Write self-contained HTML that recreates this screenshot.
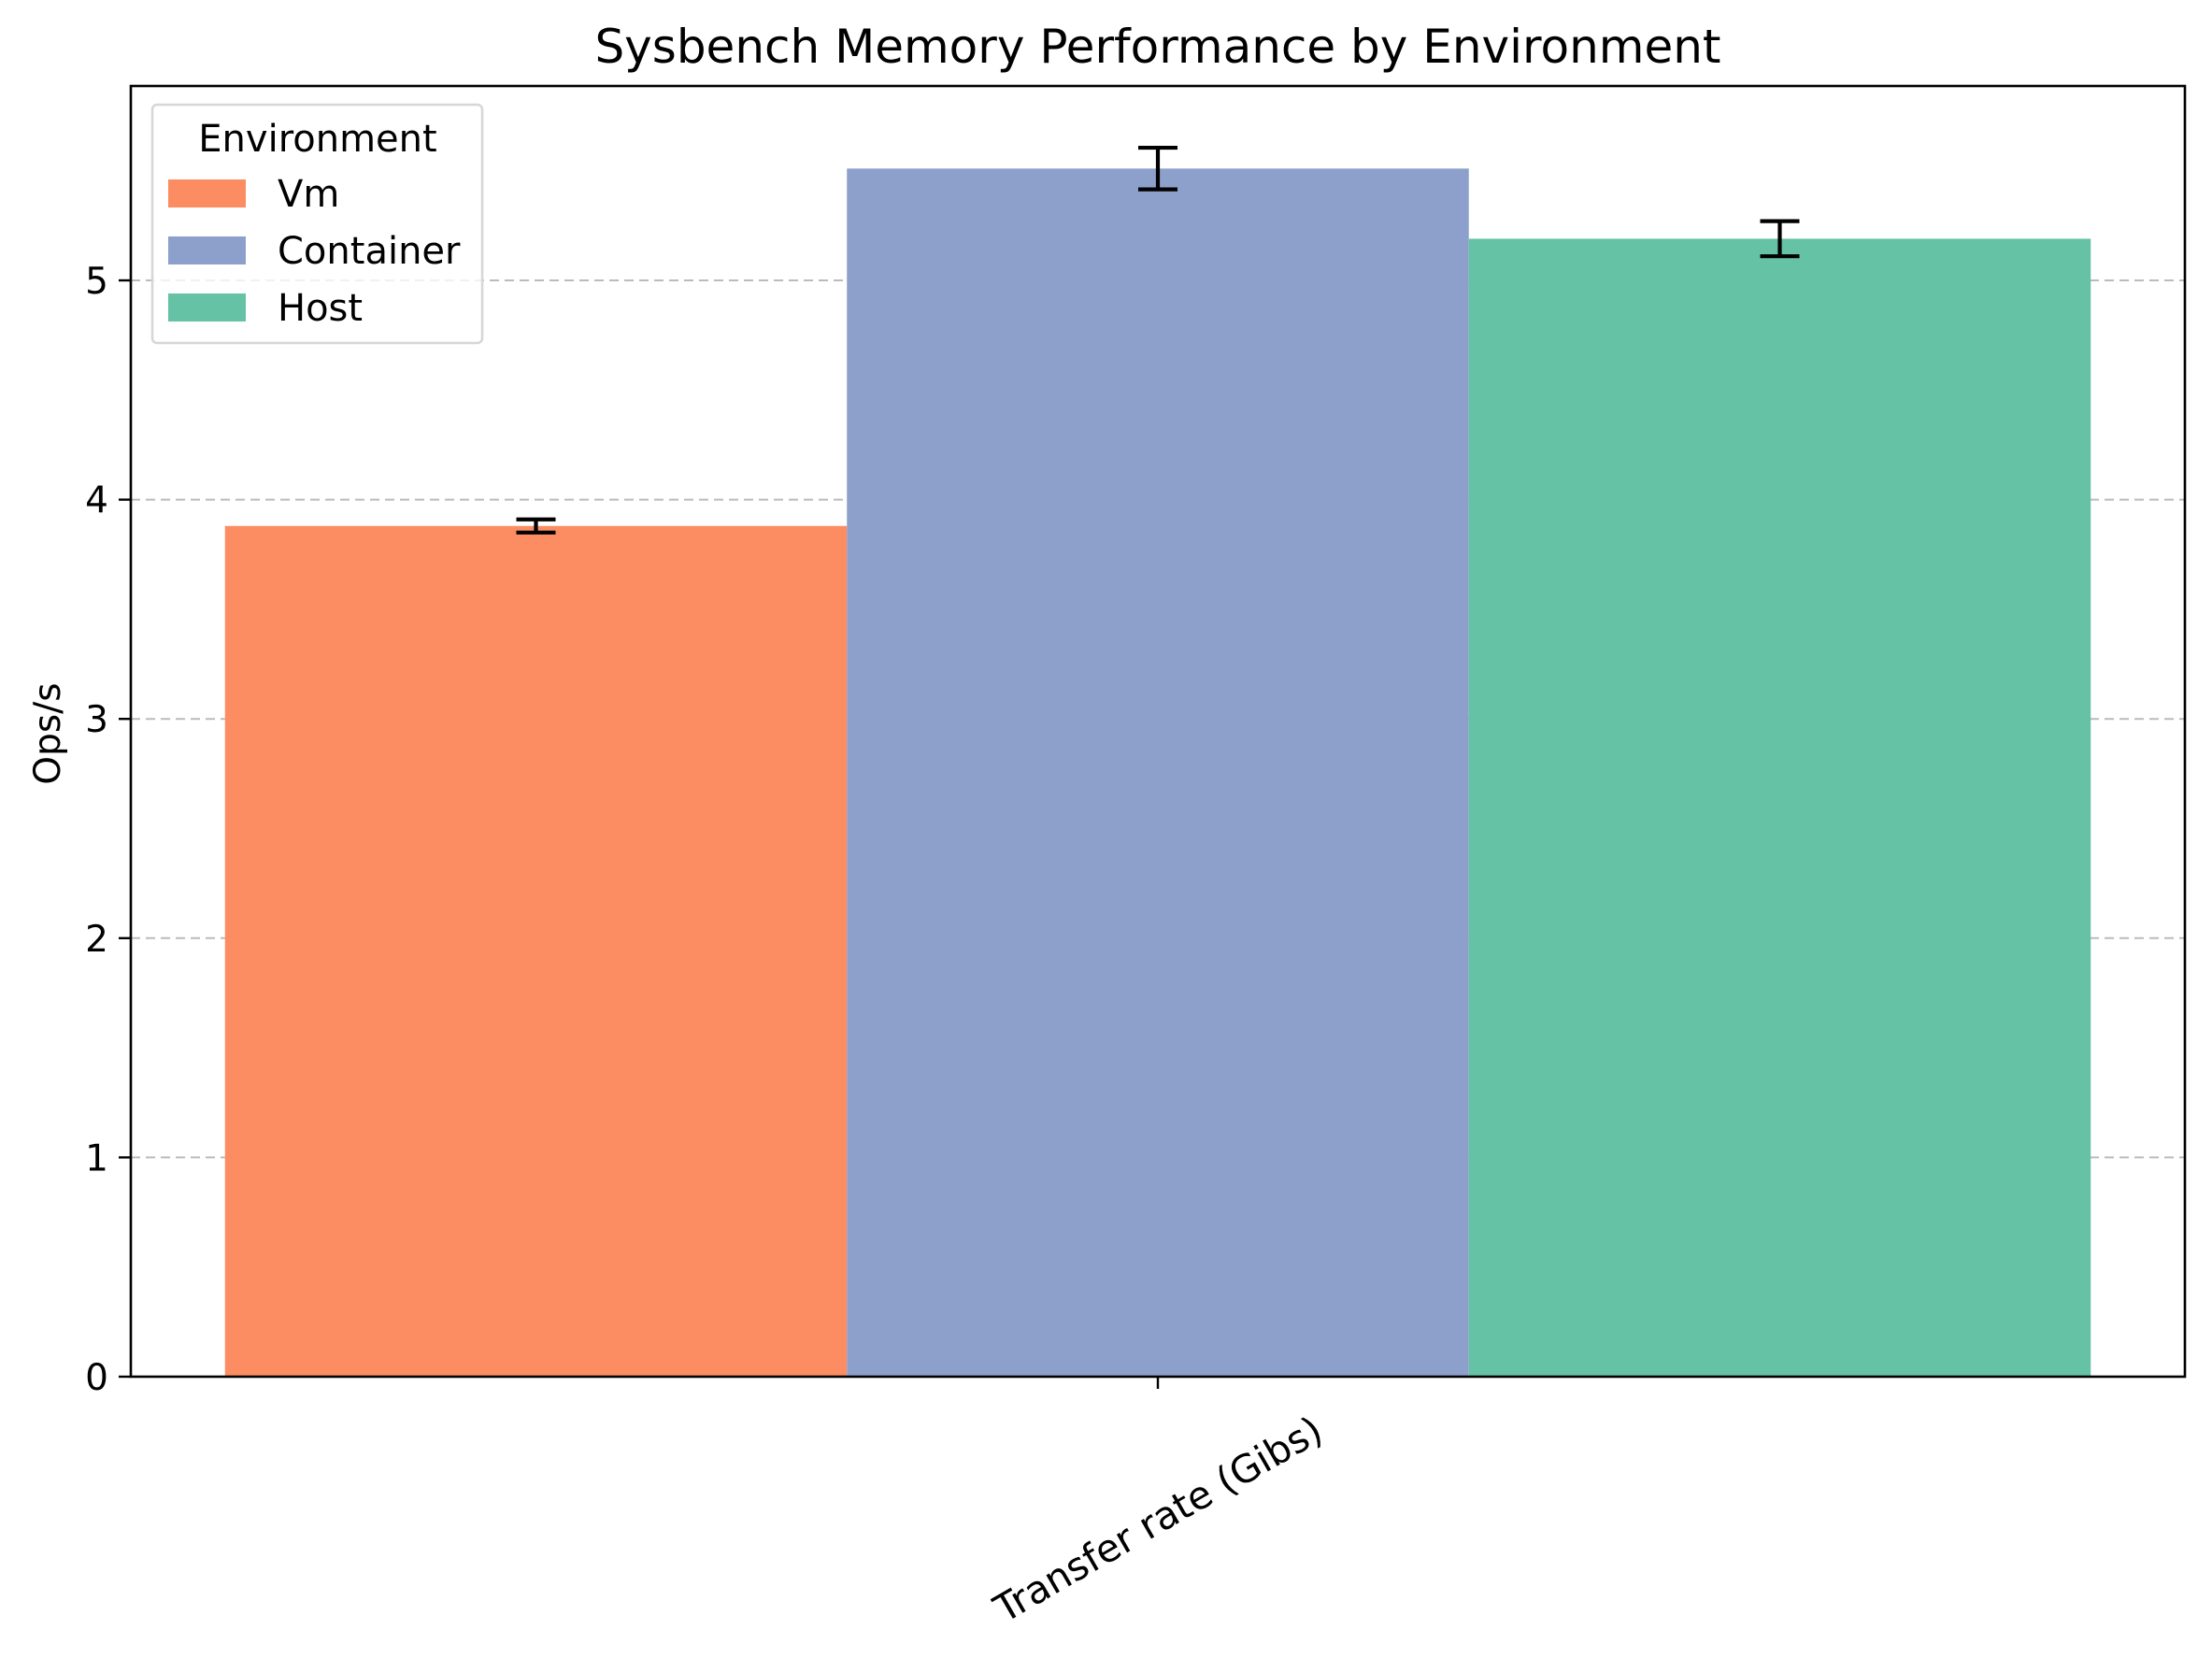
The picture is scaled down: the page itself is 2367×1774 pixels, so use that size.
<!DOCTYPE html>
<html><head><meta charset="utf-8"><style>
html,body{margin:0;padding:0;background:#fff}
svg text{font-family:"DejaVu Sans","Liberation Sans",sans-serif;fill:#000}
</style></head><body>
<svg id="chart" width="2367" height="1769" viewBox="0 0 2367 1769" xmlns="http://www.w3.org/2000/svg">
<g id="grid"></g>
<g id="bars"></g>
<g id="errs"></g>
<rect x="140" y="92" width="2198" height="1381" fill="none" stroke="#000" stroke-width="2.6"/>
<g id="yticks"></g>
<line x1="1239" y1="1473" x2="1239" y2="1486" stroke="#000" stroke-width="2.4"/>
<text x="1239" y="1640" font-size="41" text-anchor="middle" transform="rotate(-30 1239 1625)">Transfer rate (Gibs)</text>
<text x="1239" y="67" font-size="50" text-anchor="middle">Sysbench Memory Performance by Environment</text>
<text x="50" y="799" font-size="39" text-anchor="middle" transform="rotate(-90 50 785)">Ops/s</text>
<g>
<rect x="163" y="112" width="353" height="255" rx="5" fill="#fff" fill-opacity="0.8" stroke="#d6d6d6" stroke-width="2.5"/>
<text x="340" y="162" font-size="40" text-anchor="middle">Environment</text>
<g id="legend-items"></g>
</g>
</svg>
<script>
const categories = ["Vm", "Container", "Host"];
const values = [3.88, 5.51, 5.19];
const errors = [0.03, 0.095, 0.08];
const colors = ["#fc8d62", "#8da0cb", "#66c2a5"];
const yTicks = [0, 1, 2, 3, 4, 5];

const NS = "http://www.w3.org/2000/svg";
const x0 = 140, x1 = 2338, yTop = 92, yBot = 1473;
const yMax = (yBot - yTop) / 234.6;
function yScale(v){ return yBot - v / yMax * (yBot - yTop); }
const center = 1239, barW = 665.5;
function xScale(i){ return center + (i - (categories.length - 1) / 2) * barW; }
function mk(tag, attrs, parent){ const e = document.createElementNS(NS, tag); for (const k in attrs) e.setAttribute(k, attrs[k]); parent.appendChild(e); return e; }

const grid = document.getElementById('grid'), yt = document.getElementById('yticks');
yTicks.forEach(t => {
  const y = yScale(t);
  if (t > 0) {
    const g = mk('line', {x1: x0, x2: x1, y1: y, y2: y, stroke: '#bbb', 'stroke-width': 2, 'stroke-dasharray': '10,6'}, grid);
    
    
  }
  const tk = mk('line', {x1: x0 - 13, x2: x0, y1: y, y2: y, stroke: '#000', 'stroke-width': 2.4}, yt);
  
  
  const lb = mk('text', {x: x0 - 24, y: y + 14, 'font-size': 39, 'text-anchor': 'end'}, yt);
  lb.textContent = t;
  
  
});

const bars = document.getElementById('bars'), errs = document.getElementById('errs');
categories.forEach((c, i) => {
  const cx = xScale(i);
  const r = mk('rect', {x: cx - barW / 2, y: yScale(values[i]), width: barW, height: yBot - yScale(values[i]), fill: colors[i]}, bars);
  
  
  const yh = yScale(values[i] + errors[i]), yl = yScale(values[i] - errors[i]);
  const e = mk('path', {d: `M${cx},${yh}V${yl}M${cx-21},${yh}H${cx+21}M${cx-21},${yl}H${cx+21}`, stroke: '#000', 'stroke-width': 4.2, fill: 'none'}, errs);
  
  
});

const li = document.getElementById('legend-items');
categories.forEach((c, i) => {
  const y = 207 + i * 61;
  const p = mk('rect', {x: 180, y: y - 15, width: 83, height: 30, fill: colors[i]}, li);
  
  
  const t = mk('text', {x: 297, y: y + 14, 'font-size': 40}, li);
  t.textContent = c;
  
  
});
</script>
</body></html>
